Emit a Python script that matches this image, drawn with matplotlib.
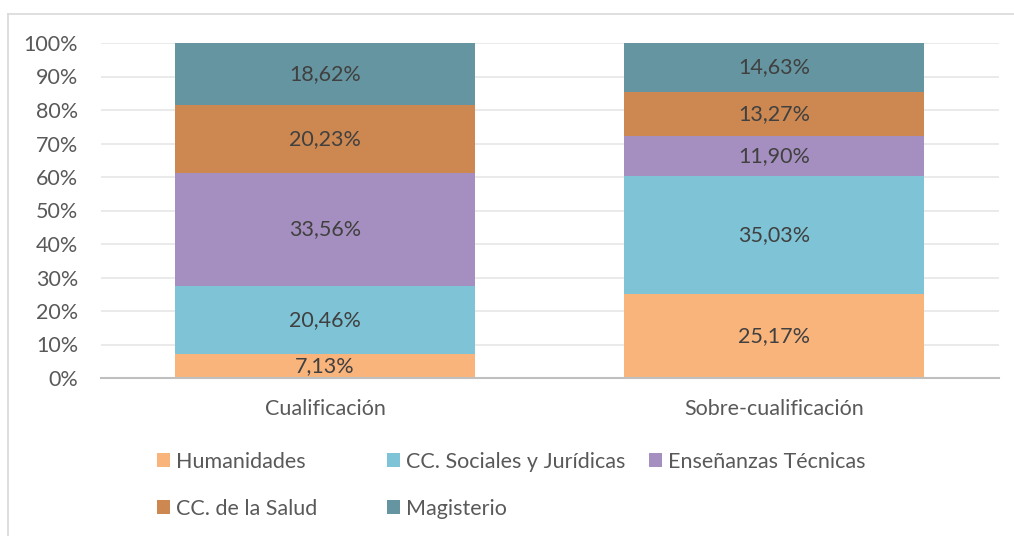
import matplotlib.pyplot as plt
from matplotlib.patches import Patch
from matplotlib.lines import Line2D
import numpy as np

categories = ["Cualificación", "Sobre-cualificación"]
series = ["Humanidades", "CC. Sociales y Jurídicas", "Enseñanzas Técnicas",
          "CC. de la Salud", "Magisterio"]
values = {
    "Humanidades": [7.13, 25.17],
    "CC. Sociales y Jurídicas": [20.46, 35.03],
    "Enseñanzas Técnicas": [33.56, 11.90],
    "CC. de la Salud": [20.23, 13.27],
    "Magisterio": [18.62, 14.63],
}
colors = ["#F9B47C", "#7EC4D6", "#A58FC0", "#CC8850", "#6595A0"]
yticks = [0, 10, 20, 30, 40, 50, 60, 70, 80, 90, 100]

plt.rcParams["font.family"] = ["Lato", "DejaVu Sans"]
text_color = "#595959"
fs = 15.5

fig = plt.figure(figsize=(10.14, 5.36), dpi=100)
ax = fig.add_axes([100.5 / 1014, 1 - 378 / 536, 898 / 1014, (378 - 43) / 536])

x = np.arange(len(categories))
bottom = np.zeros(len(categories))
for name, color in zip(series, colors):
    vals = np.array(values[name])
    ax.bar(x, vals, bottom=bottom, width=0.668, color=color, zorder=2)
    for xi, b, v in zip(x, bottom, vals):
        ax.text(xi, b + v / 2, f"{v:.2f}%".replace(".", ","), ha="center", va="center",
                fontsize=fs, color="#404040", zorder=3)
    bottom += vals

ax.set_xlim(-0.5, 1.5)
ax.set_ylim(0, 100)
ax.set_yticks(yticks)
ax.set_yticklabels([f"{t}%" for t in yticks])
ax.set_xticks(x)
ax.set_xticklabels(categories)
ax.tick_params(axis="both", length=0, labelsize=fs, labelcolor=text_color)
ax.tick_params(axis="y", pad=16)
ax.tick_params(axis="x", pad=15)
ax.yaxis.grid(True, color="#E6E6E6", linewidth=1.2, zorder=0)
ax.set_axisbelow(True)
for s in ["top", "right", "left"]:
    ax.spines[s].set_visible(False)
ax.spines["bottom"].set_color("#BFBFBF")
ax.spines["bottom"].set_linewidth(1.5)

# legend, placed column by column
handles = [Patch(facecolor=c, edgecolor="none") for c in colors]
cols = [[0, 3], [1, 4], [2]]
col_x = [157, 387, 649]
for idx, cx in zip(cols, col_x):
    leg = fig.legend([handles[i] for i in idx], [series[i] for i in idx],
                     loc="upper left", bbox_to_anchor=(cx / 1014, 1 - 452 / 536),
                     frameon=False, fontsize=fs, labelcolor=text_color,
                     handlelength=0.62, handleheight=0.62, handletextpad=0.25,
                     labelspacing=1.25, borderpad=0, borderaxespad=0)

# outer frame (left and top edges)
fig.add_artist(Line2D([8 / 1014, 8 / 1014], [0, 1 - 14 / 536], color="#D9D9D9",
                      linewidth=1.2, transform=fig.transFigure))
fig.add_artist(Line2D([8 / 1014, 1], [1 - 14 / 536, 1 - 14 / 536], color="#D9D9D9",
                      linewidth=1.2, transform=fig.transFigure))

fig.savefig("out.png", dpi=100)
